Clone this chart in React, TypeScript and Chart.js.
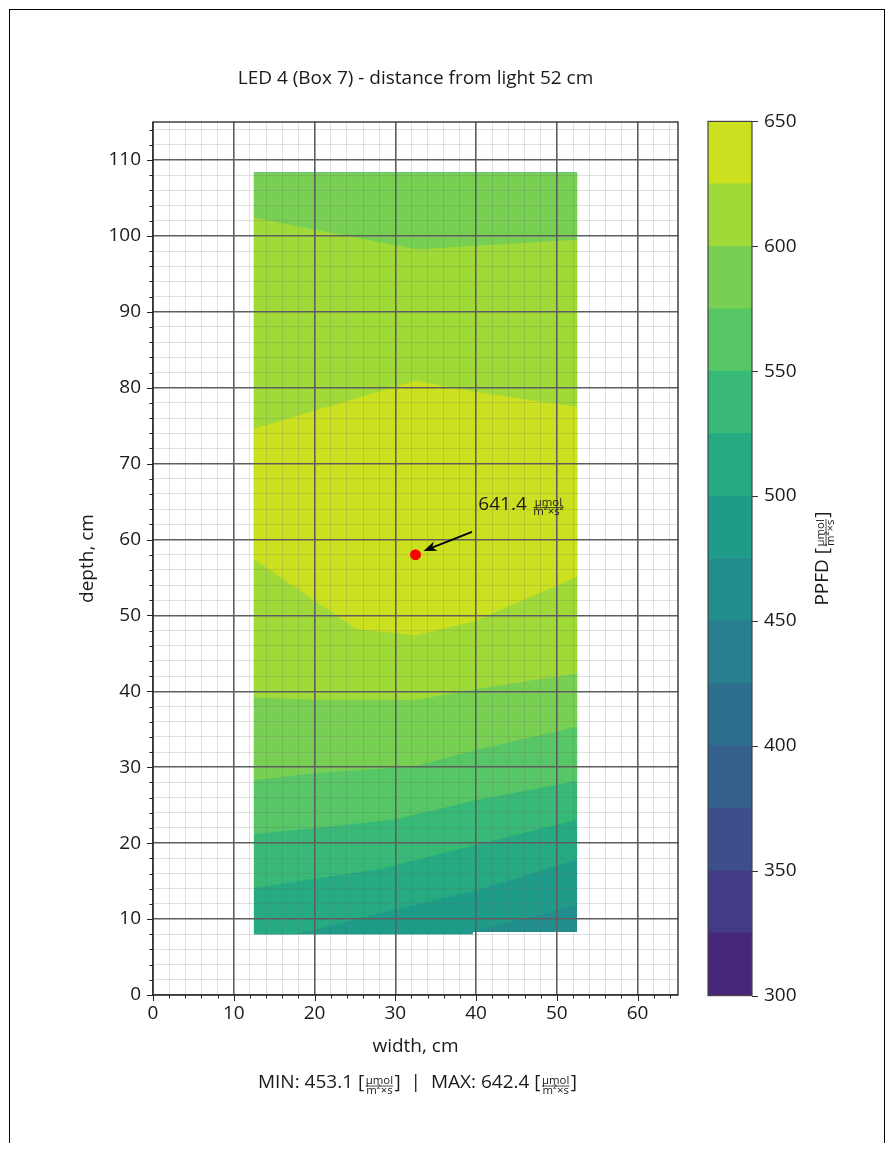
import React, { useEffect, useRef } from 'react';
import { Chart, registerables } from 'chart.js';

Chart.register(...registerables);

const FONT = '"Open Sans", "Noto Sans", sans-serif';
const FS = 19;
const TEXT = '#1a1a1a';

// ---------------- data ----------------
const chartTitle = 'LED 4 (Box 7) - distance from light 52 cm';
const xAxisLabel = 'width, cm';
const yAxisLabel = 'depth, cm';
const colorbarLabel = 'PPFD';
const unitNum = 'µmol';
const unitDen = 'm²×s';
const unitDenPeak = 'm²×s²';

const xLimits = [0, 65];
const yLimits = [0, 115];
const gridStep = 2;
const labelStep = 10;

const levels = [300, 325, 350, 375, 400, 425, 450, 475, 500, 525, 550, 575, 600, 625, 650];
const levelTickStep = 50;
const bandColors = [
  '#472878', '#433c84', '#3c4f8a', '#355f8d', '#2e6f8e', '#287e8e', '#228d8d',
  '#1e9c89', '#25aa82', '#38b977', '#56c667', '#78d052', '#a0da38', '#cbe120',
];

// measured area outline
const areaX = [12.5, 52.5];
const areaTopY = 108.3;
const bottomEdgeX = [12.5, 39.6, 39.6, 52.5];
const bottomEdgeY = [8.0, 8.0, 8.3, 8.3];

// contour lines
const c475X = [39.6, 52.5];
const c475Y = [8.3, 11.9];
const c500X = [17.8, 29.8, 40.1, 52.5];
const c500Y = [8.0, 11.2, 13.8, 17.8];
const c525X = [12.5, 28.1, 40.1, 52.5];
const c525Y = [14.1, 16.6, 19.8, 23.1];
const c550X = [12.5, 19.9, 29.8, 40.1, 52.5];
const c550Y = [21.2, 21.95, 23.1, 25.7, 28.2];
const c575X = [12.5, 19.9, 32.3, 40.1, 52.5];
const c575Y = [28.3, 29.2, 30.1, 32.3, 35.35];
const c600LowX = [12.5, 19.9, 32.5, 40.1, 52.5];
const c600LowY = [39.2, 38.9, 38.85, 40.3, 42.4];
const c600HighX = [12.5, 32.7, 40.1, 52.5];
const c600HighY = [102.4, 98.2, 98.7, 99.5];
const c625LowX = [12.5, 25.2, 32.5, 39.7, 52.5];
const c625LowY = [57.4, 48.2, 47.4, 49.2, 55.1];
const c625HighX = [12.5, 32.5, 40.1, 52.5];
const c625HighY = [74.6, 80.9, 79.4, 77.5];

const peakX = 32.5;
const peakY = 58.0;
const peakValue = 641.4;
const peakLabelPos = [40.4, 64.6];
const arrowTail = [39.5, 61.0];
const arrowTip = [33.5, 58.5];
const minValue = 453.1;
const maxValue = 642.4;

// ---------------- helpers ----------------
type P = { x: number; y: number };
const pts = (xs: number[], ys: number[]): P[] => xs.map((x, i) => ({ x, y: ys[i] }));
const topEdge: P[] = [{ x: areaX[1], y: areaTopY }, { x: areaX[0], y: areaTopY }];
const bottomEdge = pts(bottomEdgeX, bottomEdgeY);

const regions: { level: number; points: P[] }[] = [
  { level: 450, points: [...bottomEdge, ...topEdge] },
  { level: 475, points: [...bottomEdge.slice(0, 2), ...pts(c475X, c475Y), ...topEdge] },
  { level: 500, points: [bottomEdge[0], ...pts(c500X, c500Y), ...topEdge] },
  { level: 525, points: [...pts(c525X, c525Y), ...topEdge] },
  { level: 550, points: [...pts(c550X, c550Y), ...topEdge] },
  { level: 575, points: [...pts(c575X, c575Y), ...topEdge] },
  { level: 600, points: [...pts(c600LowX, c600LowY), ...pts(c600HighX, c600HighY).reverse()] },
  { level: 625, points: [...pts(c625LowX, c625LowY), ...pts(c625HighX, c625HighY).reverse()] },
];

type Seg = string | { num: string; den: string };

function drawRich(
  ctx: CanvasRenderingContext2D,
  segs: Seg[],
  x: number,
  y: number,
  size: number,
  align: 'left' | 'center',
  rotation = 0,
) {
  const big = `${size}px ${FONT}`;
  const smallSize = size * 0.6;
  const small = `${smallSize}px ${FONT}`;
  const widths = segs.map((s) => {
    if (typeof s === 'string') {
      ctx.font = big;
      return ctx.measureText(s).width;
    }
    ctx.font = small;
    return Math.max(ctx.measureText(s.num).width, ctx.measureText(s.den).width) + 3;
  });
  const total = widths.reduce((a, b) => a + b, 0);
  ctx.save();
  ctx.translate(x, y);
  ctx.rotate(rotation);
  ctx.fillStyle = TEXT;
  ctx.strokeStyle = TEXT;
  ctx.textBaseline = 'middle';
  let cx = align === 'center' ? -total / 2 : 0;
  segs.forEach((s, i) => {
    const w = widths[i];
    if (typeof s === 'string') {
      ctx.font = big;
      ctx.textAlign = 'left';
      ctx.fillText(s, cx, 0);
    } else {
      ctx.font = small;
      ctx.textAlign = 'center';
      ctx.fillText(s.num, cx + w / 2, -size * 0.1);
      ctx.fillText(s.den, cx + w / 2, size * 0.4);
      ctx.lineWidth = 0.8;
      ctx.beginPath();
      ctx.moveTo(cx + 1.5, size * 0.16);
      ctx.lineTo(cx + w - 1.5, size * 0.16);
      ctx.stroke();
    }
    cx += w;
  });
  ctx.restore();
}

const isMajor = (v: number) => Math.abs(v % labelStep) < 1e-6;
const MAJOR_GRID = '#5e5e5e';
const MINOR_GRID = 'rgba(100,100,100,0.2)';

const mainDecor = {
  id: 'mainDecor',
  afterDraw(chart: any) {
    const { ctx, chartArea: a } = chart;
    const xs = chart.scales.x;
    const ys = chart.scales.y;

    // peak marker above the grid
    ctx.save();
    ctx.beginPath();
    ctx.rect(a.left, a.top, a.right - a.left, a.bottom - a.top);
    ctx.clip();
    chart.getDatasetMeta(0).controller.draw();
    ctx.restore();

    // tick marks
    ctx.save();
    ctx.strokeStyle = '#222';
    ctx.lineWidth = 1;
    for (let v = xLimits[0]; v <= xLimits[1]; v += gridStep) {
      const px = Math.round(xs.getPixelForValue(v)) + 0.5;
      ctx.beginPath();
      ctx.moveTo(px, a.bottom);
      ctx.lineTo(px, a.bottom + (isMajor(v) ? 6 : 3.5));
      ctx.stroke();
    }
    for (let v = yLimits[0]; v <= yLimits[1]; v += gridStep) {
      const py = Math.round(ys.getPixelForValue(v)) + 0.5;
      ctx.beginPath();
      ctx.moveTo(a.left, py);
      ctx.lineTo(a.left - (isMajor(v) ? 6 : 3.5), py);
      ctx.stroke();
    }
    // frame
    ctx.lineWidth = 1.3;
    ctx.strokeStyle = '#222';
    ctx.strokeRect(a.left, a.top, a.right - a.left, a.bottom - a.top);
    ctx.restore();

    // arrow
    const tx = xs.getPixelForValue(arrowTail[0]);
    const ty = ys.getPixelForValue(arrowTail[1]);
    const hx = xs.getPixelForValue(arrowTip[0]);
    const hy = ys.getPixelForValue(arrowTip[1]);
    const ang = Math.atan2(hy - ty, hx - tx);
    const headLen = 13;
    const headW = 5;
    const cos = Math.cos(ang);
    const sin = Math.sin(ang);
    ctx.save();
    ctx.strokeStyle = '#000';
    ctx.fillStyle = '#000';
    ctx.lineWidth = 1.8;
    ctx.beginPath();
    ctx.moveTo(tx, ty);
    ctx.lineTo(hx - cos * headLen * 0.7, hy - sin * headLen * 0.7);
    ctx.stroke();
    ctx.beginPath();
    ctx.moveTo(hx, hy);
    ctx.lineTo(hx - cos * headLen - sin * headW, hy - sin * headLen + cos * headW);
    ctx.lineTo(hx - cos * headLen * 0.7, hy - sin * headLen * 0.7);
    ctx.lineTo(hx - cos * headLen + sin * headW, hy - sin * headLen - cos * headW);
    ctx.closePath();
    ctx.fill();
    ctx.restore();

    // peak label
    drawRich(
      ctx,
      [`${peakValue.toFixed(1)} `, { num: unitNum, den: unitDenPeak }],
      xs.getPixelForValue(peakLabelPos[0]) - 1,
      ys.getPixelForValue(peakLabelPos[1]),
      FS,
      'left',
    );

    // footer
    drawRich(
      ctx,
      [
        `MIN: ${minValue.toFixed(1)} [`,
        { num: unitNum, den: unitDen },
        `]  |  MAX: ${maxValue.toFixed(1)} [`,
        { num: unitNum, den: unitDen },
        ']',
      ],
      (a.left + a.right) / 2 + 2,
      1075,
      FS,
      'center',
    );
  },
};

const cbDecor = {
  id: 'cbDecor',
  afterDraw(chart: any) {
    const { ctx, chartArea: a } = chart;
    const ys = chart.scales.y;
    ctx.save();
    ctx.strokeStyle = '#333';
    ctx.lineWidth = 1;
    for (let v = levels[0]; v <= levels[levels.length - 1]; v += levelTickStep) {
      const py = Math.round(ys.getPixelForValue(v)) + 0.5;
      ctx.beginPath();
      ctx.moveTo(a.right, py);
      ctx.lineTo(a.right + 6, py);
      ctx.stroke();
    }
    ctx.lineWidth = 1.2;
    ctx.strokeStyle = '#444';
    ctx.strokeRect(a.left, a.top, a.right - a.left, a.bottom - a.top);
    ctx.restore();
    drawRich(
      ctx,
      [`${colorbarLabel} [`, { num: unitNum, den: unitDen }, ']'],
      133,
      (a.top + a.bottom) / 2,
      FS,
      'center',
      -Math.PI / 2,
    );
  },
};

export default function App() {
  const mainRef = useRef<HTMLCanvasElement>(null);
  const cbRef = useRef<HTMLCanvasElement>(null);

  useEffect(() => {
    const font = { family: FONT, size: FS, weight: 'normal' as const };

    const regionSets = regions
      .slice()
      .reverse()
      .map((r) => ({
        type: 'line' as const,
        data: r.points,
        fill: 'shape',
        backgroundColor: bandColors[levels.indexOf(r.level)],
        borderColor: 'rgba(0,0,0,0)',
        borderWidth: 0,
        pointRadius: 0,
        tension: 0,
      }));

    const main = new Chart(mainRef.current as HTMLCanvasElement, {
      type: 'line',
      data: {
        datasets: [
          {
            data: [{ x: peakX, y: peakY }],
            showLine: false,
            fill: false,
            pointRadius: 5.3,
            pointBackgroundColor: '#ff0000',
            pointBorderColor: '#ff0000',
            pointBorderWidth: 0,
            borderColor: '#ff0000',
            backgroundColor: '#ff0000',
          } as any,
          ...(regionSets as any[]),
        ],
      },
      options: {
        animation: false,
        responsive: false,
        maintainAspectRatio: false,
        layout: { padding: { left: 0, right: 30, top: 0, bottom: 0 } },
        plugins: {
          legend: { display: false },
          tooltip: { enabled: false },
          title: {
            display: true,
            text: chartTitle,
            fullSize: false,
            color: TEXT,
            font,
            padding: { top: 59.6, bottom: 31.6 },
          },
        },
        scales: {
          x: {
            type: 'linear',
            position: 'bottom',
            min: xLimits[0],
            max: xLimits[1],
            border: { display: false },
            grid: {
              z: 1,
              drawTicks: false,
              color: (c: any) => (isMajor(c.tick.value) ? MAJOR_GRID : MINOR_GRID),
              lineWidth: (c: any) => (isMajor(c.tick.value) ? 1.6 : 1),
            },
            ticks: {
              stepSize: gridStep,
              autoSkip: false,
              maxRotation: 0,
              includeBounds: false,
              padding: 7,
              color: TEXT,
              font,
              callback: (v: any) => (isMajor(Number(v)) ? String(v) : ''),
            },
            title: {
              display: true,
              text: xAxisLabel,
              color: TEXT,
              font,
              padding: { top: 0, bottom: 59.6 },
            },
            afterFit: (s: any) => {
              s.height = 123;
            },
          },
          y: {
            type: 'linear',
            position: 'left',
            min: yLimits[0],
            max: yLimits[1],
            border: { display: false },
            grid: {
              z: 1,
              drawTicks: false,
              color: (c: any) => (isMajor(c.tick.value) ? MAJOR_GRID : MINOR_GRID),
              lineWidth: (c: any) => (isMajor(c.tick.value) ? 1.6 : 1),
            },
            ticks: {
              stepSize: gridStep,
              autoSkip: false,
              includeBounds: false,
              padding: 12,
              color: TEXT,
              font,
              callback: (v: any) => (isMajor(Number(v)) ? String(v) : ''),
            },
            title: {
              display: true,
              text: yAxisLabel,
              color: TEXT,
              font,
              padding: { top: 68.6, bottom: 0 },
            },
            afterFit: (s: any) => {
              s.width = 145;
            },
          },
        },
      },
      plugins: [mainDecor],
    } as any);

    const cb = new Chart(cbRef.current as HTMLCanvasElement, {
      type: 'bar',
      data: {
        labels: [''],
        datasets: bandColors.map((c, i) => ({
          data: [[levels[i], levels[i + 1]]],
          backgroundColor: c,
          borderWidth: 0,
          barPercentage: 1,
          categoryPercentage: 1,
        })),
      },
      options: {
        animation: false,
        responsive: false,
        maintainAspectRatio: false,
        layout: { padding: { left: 18, top: 0, bottom: 0, right: 0 } },
        plugins: { legend: { display: false }, tooltip: { enabled: false } },
        scales: {
          x: { display: false, stacked: true },
          y: {
            position: 'right',
            min: levels[0],
            max: levels[levels.length - 1],
            border: { display: false },
            grid: { display: false, drawTicks: false },
            ticks: { stepSize: levelTickStep, padding: 12, color: TEXT, font },
            afterFit: (s: any) => {
              s.width = 128;
            },
          },
        },
      },
      plugins: [cbDecor],
    } as any);

    return () => {
      main.destroy();
      cb.destroy();
    };
  }, []);

  return (
    <div style={{ position: 'relative', width: 879, height: 1135 }}>
      <div
        style={{
          position: 'absolute',
          left: 1,
          top: 1,
          width: 876,
          height: 1134,
          boxSizing: 'border-box',
          borderTop: '1px solid #000',
          borderLeft: '1px solid #000',
          borderRight: '1px solid #000',
        }}
      />
      <canvas
        ref={mainRef}
        width={700}
        height={1110}
        style={{ position: 'absolute', left: 0, top: 0, width: 700, height: 1110 }}
      />
      <canvas
        ref={cbRef}
        width={190}
        height={921}
        style={{ position: 'absolute', left: 682, top: 90, width: 190, height: 921 }}
      />
    </div>
  );
}
